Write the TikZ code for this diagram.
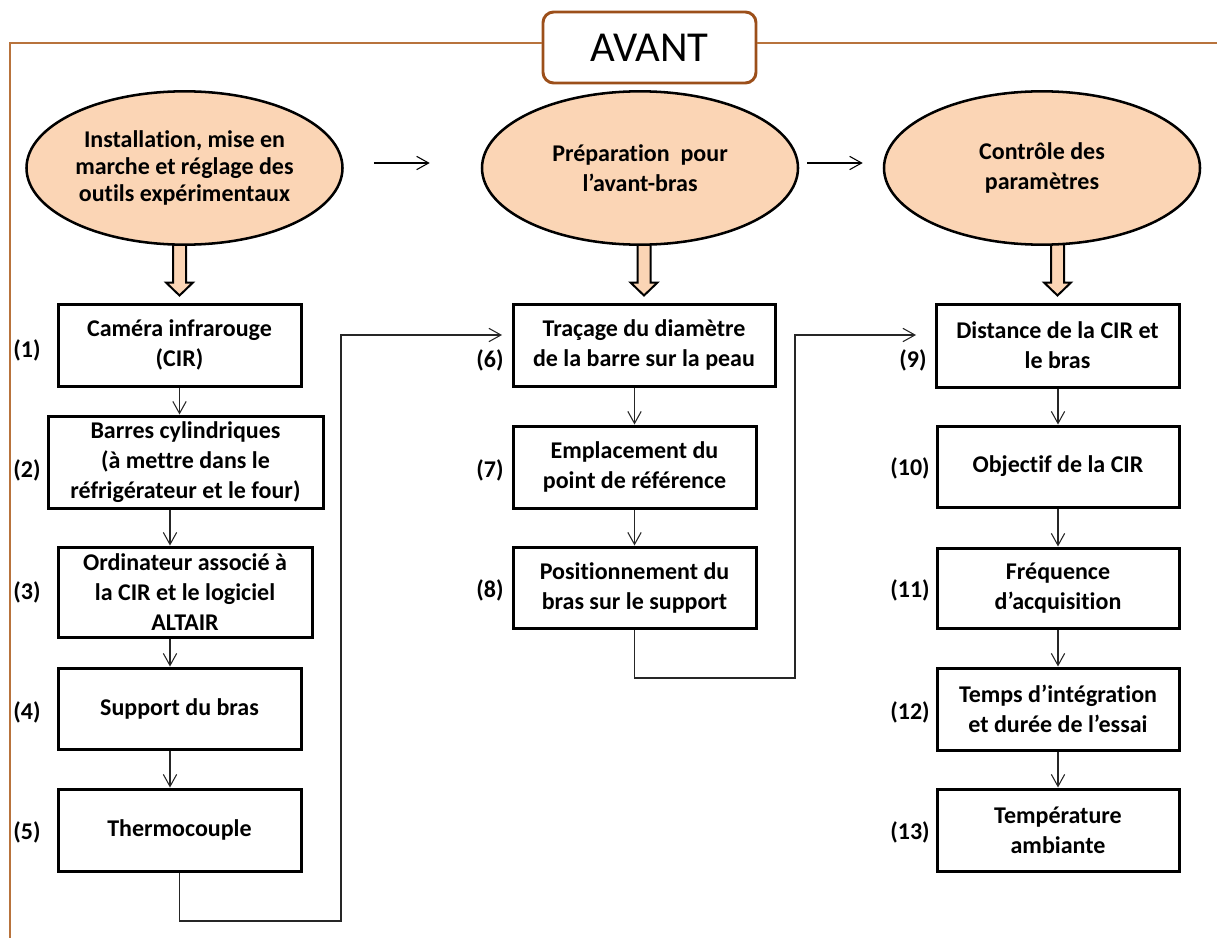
\documentclass[tikz,border=0pt]{standalone}
\usepackage{fontspec}
\setmainfont{Carlito}[Ligatures=NoCommon]
\usetikzlibrary{shapes.geometric,arrows.meta,calc,backgrounds}
\definecolor{peach}{HTML}{FBD5B5}
\definecolor{framebrown}{HTML}{B8733C}
\definecolor{avantbrown}{HTML}{9C4F1A}
\begin{document}
\begin{tikzpicture}[x=0.75pt,y=-0.75pt,
  every node/.style={font=\fontsize{18}{22.5}\selectfont\bfseries},
  wh/.style 2 args={minimum width=#1*0.75pt, minimum height=#2*0.75pt},
  stepbox/.style={draw=black, line width=2.25pt, fill=white, align=center, inner sep=0pt},
  phase/.style={ellipse, draw=black, line width=1.9pt, fill=peach, align=center, inner sep=0pt, minimum width=237pt, minimum height=115pt},
  conn/.style={draw=black!85, line width=0.8pt, -{Straight Barb[length=9pt,width=10pt]}},
  fat/.style={draw=black, line width=1.5pt, fill=peach, line join=miter},
  frame/.style={draw=framebrown, line width=1.6pt},
  num/.style={inner sep=0pt}]
\useasboundingbox (0,0) rectangle (1217,938);

% title box and frame
\node[draw=avantbrown, line width=2.2pt, rounded corners=8pt, fill=white, wh={213}{71}, font=\fontsize{32}{36}\selectfont] (avant) at (649.5,47.5) {AVANT};
\coordinate (tl) at (10,43);
\coordinate (bl) at (10,938);
\coordinate (tr) at (1217,43);
\draw[frame] (avant.west |- tl) -- (tl) -- (bl);
\draw[frame] (avant.east |- tr) -- (tr);

% phases
\node[phase, font=\fontsize{18}{20}\selectfont\bfseries] (e1) at (184.5,168) {Installation, mise en\\marche et réglage des\\outils expérimentaux};
\node[phase] (e2) at (640,168) {Préparation\ \ pour\\l’avant-bras};
\node[phase] (e3) at (1042,168) {Contrôle des\\paramètres};

% column 1
\node[stepbox, wh={243}{82}] (b1) at (179.5,345) {Caméra infrarouge\\(CIR)};
\node[stepbox, wh={275}{92}] (b2) at (185.5,462) {Barres cylindriques\\(à mettre dans le\\réfrigérateur et le four)};
\node[stepbox, wh={254}{90}] (b3) at (185,592) {Ordinateur associé à\\la CIR et le logiciel\\ALTAIR};
\node[stepbox, wh={243}{81}] (b4) at (179.5,708.5) {Support du bras};
\node[stepbox, wh={243}{82}] (b5) at (179.5,830) {Thermocouple};
% column 2
\node[stepbox, wh={262}{82}] (b6) at (644,345) {Traçage du diamètre\\de la barre sur la peau};
\node[stepbox, wh={243}{82}] (b7) at (634.5,467) {Emplacement du\\point de référence};
\node[stepbox, wh={243}{81}] (b8) at (634.5,587.5) {Positionnement du\\bras sur le support};
% column 3
\node[stepbox, wh={243}{83}] (b9) at (1057.5,345.5) {Distance de la CIR et\\le bras};
\node[stepbox, wh={242}{81}] (b10) at (1058,466.5) {Objectif de la CIR};
\node[stepbox, wh={242}{80}] (b11) at (1058,588) {Fréquence\\d’acquisition};
\node[stepbox, wh={242}{82}] (b12) at (1058,709) {Temps d’intégration\\et durée de l’essai};
\node[stepbox, wh={242}{82}] (b13) at (1058,830) {Température\\ambiante};

% numbers
\node[num] (n1) at (27,350) {(1)};
\node[num] (n2) at (27,470) {(2)};
\node[num] (n3) at (27,592) {(3)};
\node[num] (n4) at (27,712) {(4)};
\node[num] (n5) at (27,832) {(5)};
\node[num] (n6) at (490,360) {(6)};
\node[num] (n7) at (490,470) {(7)};
\node[num] (n8) at (490,590) {(8)};
\node[num] (n9) at (913,360) {(9)};
\node[num] (n10) at (910,468) {(10)};
\node[num] (n11) at (910,590) {(11)};
\node[num] (n12) at (910,712) {(12)};
\node[num] (n13) at (910,832) {(13)};

% fat arrows from phases to first steps
\begin{pgfonlayer}{background}
\foreach \e/\b in {e1/b1,e2/b6,e3/b9} {
  \draw[fat] ($(\b.north |- \e.south)+(-6.5,-4)$) -- ($(\b.north)+(-6.5,-20)$) -- ($(\b.north)+(-13.5,-20)$) -- ($(\b.north)+(0,-7)$) -- ($(\b.north)+(13.5,-20)$) -- ($(\b.north)+(6.5,-20)$) -- ($(\b.north |- \e.south)+(6.5,-4)$) -- cycle;
}
\end{pgfonlayer}

% arrows between phases
\draw[conn, draw=black] ($(e1.east)+(30,-5)$) -- ($(e2.west)+(-51,-5)$);
\draw[conn, draw=black] ($(e2.east)+(8,-5)$) -- ($(e3.west)+(-20,-5)$);

% column 1 arrows
\coordinate (ax1) at (170,0);
\draw[conn] (b1.south) -- (b1.south |- b2.north);
\draw[conn] (b2.south -| ax1) -- (b3.north -| ax1);
\draw[conn] (b3.south -| ax1) -- (b4.north -| ax1);
\draw[conn] (b4.south -| ax1) -- (b5.north -| ax1);
% column 2 arrows
\draw[conn] (b6.south -| b7.north) -- (b7.north);
\draw[conn] (b7.south) -- (b8.north);
% column 3 arrows
\draw[conn] (b9.south -| b10.north) -- (b10.north);
\draw[conn] (b10.south) -- (b11.north);
\draw[conn] (b11.south) -- (b12.north);
\draw[conn] (b12.south) -- (b13.north);

% links between columns
\coordinate (k1) at (341,921);
\coordinate (k2) at (502,335);
\draw[conn] (b5.south) |- (k1) |- (k2);
\coordinate (k3) at (795,678);
\coordinate (k4) at (916,335);
\draw[conn] (b8.south) |- (k3) |- (k4);
\end{tikzpicture}
\end{document}
